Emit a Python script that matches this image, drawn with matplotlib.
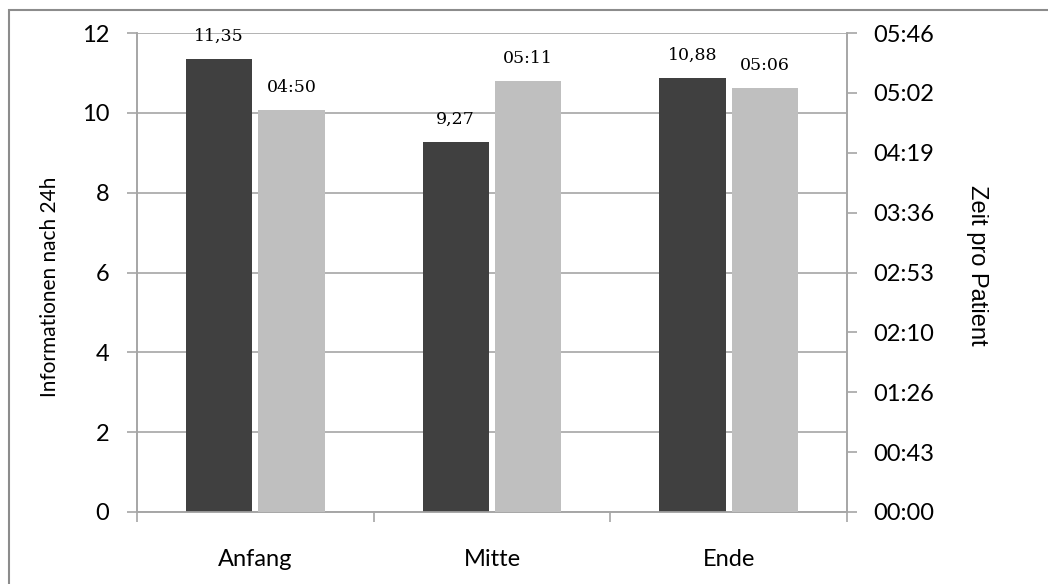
import matplotlib
matplotlib.use("Agg")
import matplotlib.pyplot as plt
import numpy as np
from matplotlib.patches import Rectangle
from matplotlib.ticker import FixedLocator, FuncFormatter

# Mittelwerte je Phase
phasen = ["Anfang", "Mitte", "Ende"]
informationen = [11.35, 9.27, 10.88]
zeit_pro_patient = ["04:50", "05:11", "05:06"]

# Zeitachse in Sekunden (Maximum = 0,004 Tage)
zeit_max = 345.6
zeit_ticks = [zeit_max * i / 8 for i in range(9)]
info_ticks = [0, 2, 4, 6, 8, 10, 12]


def to_sec(s):
    m, sec = s.split(":")
    return int(m) * 60 + int(sec)


def fmt_mmss(v, pos=None):
    t = int(round(v))
    return "%02d:%02d" % (t // 60, t % 60)


sekunden = [to_sec(s) for s in zeit_pro_patient]

tick_font = "Lato"
label_font = "DejaVu Serif"
dark = "#404040"
light = "#bfbfbf"
grid_c = "#a6a6a6"

fig = plt.figure(figsize=(10.48, 5.84), dpi=100)
ax = fig.add_axes([137 / 1048, 1 - 512 / 584, 710 / 1048, 479 / 584])
ax2 = ax.twinx()

# Rahmen um das Diagramm
fig.patches.append(Rectangle((9 / 1048, -0.05), 1.1, 1 - 10 / 584 + 0.05,
                             transform=fig.transFigure, fill=False,
                             edgecolor="#8c8c8c", linewidth=1.5))

x = np.arange(len(phasen))
w = 0.28
off = 0.153

b1 = ax.bar(x - off, informationen, w, color=dark, zorder=3)
b2 = ax2.bar(x + off, sekunden, w, color=light, zorder=3)

ax.set_xlim(-0.5, 2.5)
ax.set_ylim(0, 12)
ax2.set_ylim(0, zeit_max)

ax.yaxis.set_major_locator(FixedLocator(info_ticks))
ax2.yaxis.set_major_locator(FixedLocator(zeit_ticks))
ax2.yaxis.set_major_formatter(FuncFormatter(fmt_mmss))
ax.yaxis.grid(True, color=grid_c, linewidth=1.2, zorder=0)
ax.set_axisbelow(True)

ax.set_xticks(x)
ax.set_xticklabels(phasen, fontname=tick_font, fontsize=17)
ax.tick_params(axis="x", length=0, pad=27)
ax.set_xticks([-0.5, 0.5, 1.5, 2.5], minor=True)
ax.tick_params(axis="x", which="minor", length=7, color=grid_c, width=1.2)

ax.tick_params(axis="y", length=7, color=grid_c, width=1.2, pad=13)
ax2.tick_params(axis="y", length=7, color=grid_c, width=1.2, pad=12)
for lab in ax.get_yticklabels() + ax2.get_yticklabels():
    lab.set_fontname(tick_font)
    lab.set_fontsize(17)

for a in (ax, ax2):
    a.spines["top"].set_visible(False)
    for s in ("left", "right", "bottom"):
        a.spines[s].set_color(grid_c)
        a.spines[s].set_linewidth(1.2)

ax.set_ylabel("Informationen nach 24h", fontname=tick_font, fontsize=15)
ax.yaxis.set_label_coords(-0.108, 0.47)
ax2.set_ylabel("Zeit pro Patient", fontname="Liberation Sans", fontsize=17,
               rotation=270, va="center")
ax2.yaxis.set_label_coords(1.183, 0.515)

# Wertebeschriftungen über den Balken
for rect, v in zip(b1, informationen):
    ax.annotate(("%.2f" % v).replace(".", ","),
                (rect.get_x() + rect.get_width() / 2, v),
                xytext=(0, 10), textcoords="offset points",
                ha="center", va="bottom", fontname=label_font, fontsize=12.5)
for rect, v, s in zip(b2, sekunden, zeit_pro_patient):
    ax2.annotate(s, (rect.get_x() + rect.get_width() / 2, v),
                 xytext=(0, 10), textcoords="offset points",
                 ha="center", va="bottom", fontname=label_font, fontsize=12.5)

fig.savefig("out.png", dpi=100)
